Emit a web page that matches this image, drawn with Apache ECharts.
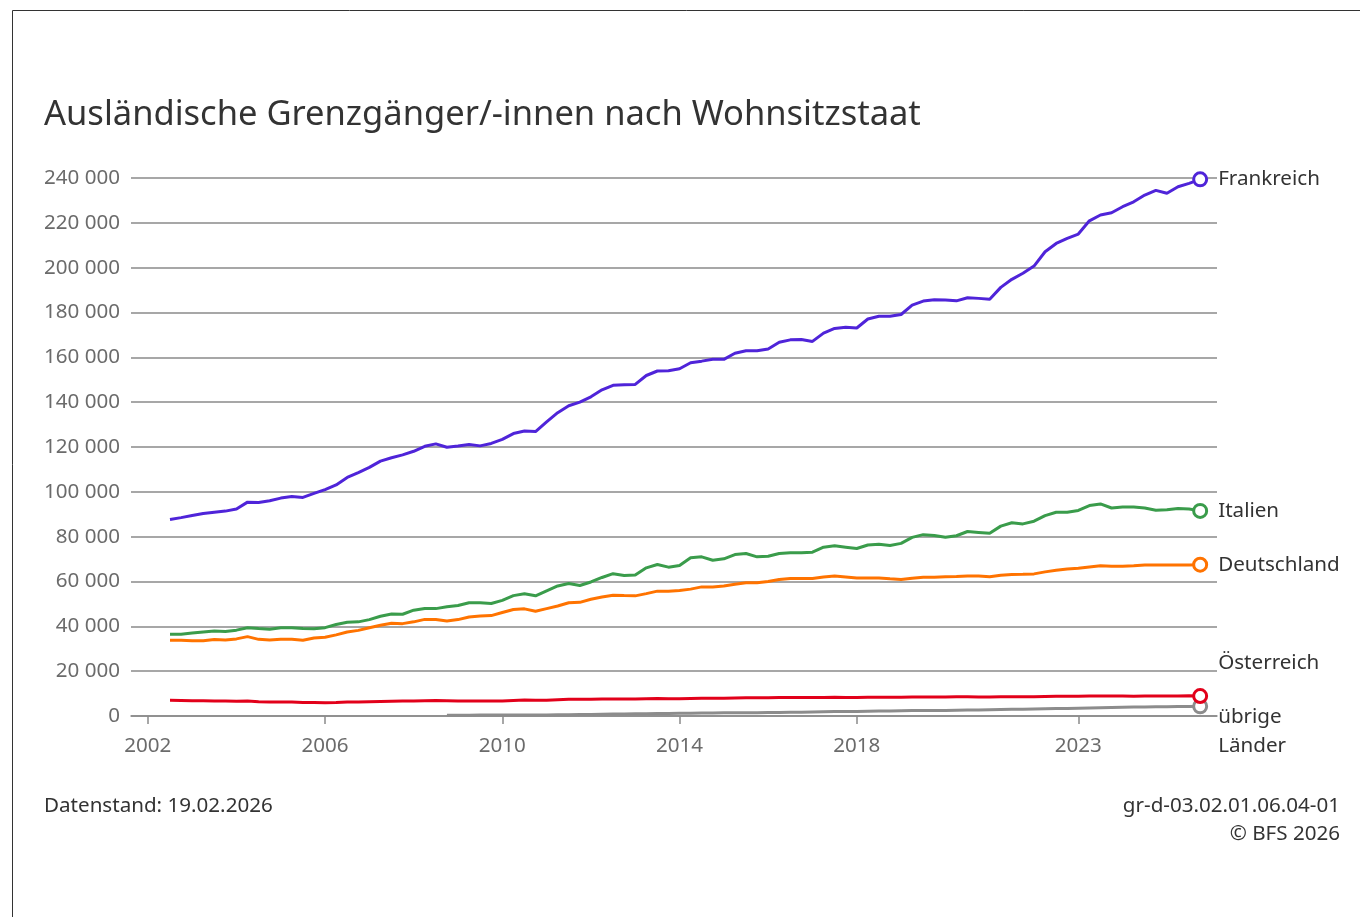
<!DOCTYPE html>
<html>
<head>
<meta charset="utf-8">
<script src="https://cdn.jsdelivr.net/npm/echarts@6/dist/echarts.min.js"></script>
<style>
  html, body { margin: 0; padding: 0; background: #fff; }
  #chart { width: 1360px; height: 917px; }
</style>
</head>
<body>
<div id="chart"></div>
<script>
// quarterly values in thousands, 2002 Q3 .. 2025 Q4
var frankreich = [
  87.7, 88.5,                 // 2002
  89.4, 90.3, 90.9, 91.4,     // 2003
  92.3, 95.4, 95.2, 96.0,     // 2004
  97.2, 97.9, 97.5, 99.3,     // 2005
  101.0, 103.1, 106.4, 108.6, // 2006
  110.9, 113.7, 115.2, 116.5, // 2007
  118.1, 120.3, 121.4, 119.9, // 2008
  120.4, 121.1, 120.5, 121.6, // 2009
  123.4, 126.0, 127.1, 126.9, // 2010
  131.2, 135.3, 138.4, 140.0, // 2011
  142.4, 145.5, 147.5, 147.8, // 2012
  147.9, 151.9, 153.9, 154.0, // 2013
  154.9, 157.6, 158.3, 159.1, // 2014
  159.1, 161.8, 162.9, 162.9, // 2015
  163.7, 166.7, 167.8, 168.0, // 2016
  167.1, 170.8, 172.9, 173.4, // 2017
  173.1, 177.1, 178.3, 178.3, // 2018
  179.1, 183.3, 185.1, 185.7, // 2019
  185.6, 185.2, 186.6, 186.3, // 2020
  185.9, 191.2, 194.8, 197.5, // 2021
  200.7, 207.1, 210.8, 213.1, // 2022
  215.0, 220.9, 223.5, 224.5, // 2023
  227.2, 229.4, 232.4, 234.5, // 2024
  233.2, 236.1, 237.6, 239.4  // 2025
];
var italien = [
  36.5, 36.5,
  37.0, 37.5, 37.9, 37.7,
  38.3, 39.4, 39.0, 38.7,
  39.4, 39.4, 39.0, 38.9,
  39.4, 40.8, 41.8, 42.0,
  43.0, 44.5, 45.5, 45.4,
  47.2, 48.0, 47.9, 48.7,
  49.3, 50.5, 50.5, 50.2,
  51.6, 53.7, 54.5, 53.6,
  55.8, 58.0, 59.1, 58.2,
  59.8, 61.8, 63.5, 62.7,
  62.9, 66.1, 67.6, 66.4,
  67.1, 70.6, 71.0, 69.5,
  70.1, 72.0, 72.5, 71.0,
  71.3, 72.5, 72.8, 72.8,
  73.1, 75.3, 75.9, 75.3,
  74.7, 76.3, 76.6, 76.1,
  77.0, 79.7, 80.9, 80.5,
  79.7, 80.4, 82.3, 81.9,
  81.5, 84.7, 86.2, 85.7,
  86.9, 89.4, 90.9, 90.9,
  91.7, 93.9, 94.6, 92.8,
  93.2, 93.2, 92.8, 91.8,
  92.0, 92.6, 92.3, 91.5
];
var deutschland = [
  33.8, 33.8,
  33.6, 33.6, 34.1, 33.9,
  34.4, 35.4, 34.2, 33.9,
  34.2, 34.2, 33.8, 34.8,
  35.1, 36.2, 37.5, 38.2,
  39.4, 40.5, 41.4, 41.2,
  42.0, 43.1, 43.0, 42.4,
  43.0, 44.2, 44.6, 44.8,
  46.2, 47.5, 47.8, 46.7,
  47.9, 49.1, 50.5, 50.7,
  52.1, 53.1, 53.9, 53.7,
  53.6, 54.6, 55.7, 55.7,
  56.0, 56.6, 57.6, 57.6,
  58.0, 58.8, 59.4, 59.4,
  60.0, 60.9, 61.3, 61.3,
  61.3, 62.0, 62.4, 62.0,
  61.6, 61.6, 61.6, 61.2,
  60.9, 61.5, 61.9, 61.9,
  62.1, 62.2, 62.5, 62.4,
  62.1, 62.8, 63.1, 63.2,
  63.4, 64.3, 65.0, 65.6,
  65.9, 66.5, 67.0, 66.8,
  66.8, 67.0, 67.4, 67.4,
  67.4, 67.4, 67.4, 67.5
];
var oesterreich = [
  7.0, 6.9,
  6.8, 6.8, 6.7, 6.7,
  6.6, 6.7, 6.4, 6.3,
  6.2, 6.2, 6.0, 6.0,
  5.9, 6.0, 6.2, 6.3,
  6.4, 6.5, 6.6, 6.7,
  6.7, 6.8, 6.9, 6.8,
  6.7, 6.7, 6.7, 6.7,
  6.7, 6.9, 7.1, 7.0,
  7.0, 7.3, 7.5, 7.5,
  7.5, 7.6, 7.6, 7.6,
  7.6, 7.7, 7.8, 7.7,
  7.7, 7.8, 7.9, 7.9,
  7.9, 8.0, 8.1, 8.1,
  8.1, 8.2, 8.2, 8.2,
  8.2, 8.3, 8.4, 8.3,
  8.3, 8.4, 8.4, 8.4,
  8.4, 8.5, 8.5, 8.5,
  8.5, 8.6, 8.6, 8.5,
  8.5, 8.6, 8.6, 8.6,
  8.6, 8.7, 8.8, 8.8,
  8.8, 8.9, 8.9, 8.9,
  8.9, 8.8, 8.9, 8.9,
  8.9, 8.9, 9.0, 8.9
];
// übrige Länder starts 2008 Q4
var uebrige = [
  0.3,
  0.3, 0.3, 0.4, 0.4,
  0.4, 0.5, 0.5, 0.5,
  0.5, 0.6, 0.6, 0.7,
  0.7, 0.8, 0.9, 0.9,
  1.0, 1.0, 1.1, 1.1,
  1.2, 1.2, 1.3, 1.3,
  1.4, 1.5, 1.5, 1.5,
  1.6, 1.6, 1.7, 1.7,
  1.8, 1.9, 2.0, 2.0,
  2.0, 2.1, 2.2, 2.2,
  2.3, 2.4, 2.5, 2.5,
  2.5, 2.6, 2.7, 2.7,
  2.8, 2.9, 3.0, 3.0,
  3.1, 3.2, 3.3, 3.4,
  3.5, 3.6, 3.7, 3.8,
  3.9, 4.0, 4.0, 4.1,
  4.1, 4.2, 4.2, 4.3
];
var xTickYears = [2002, 2006, 2010, 2014, 2018, 2023];

var firstQuarter = 2002.5;   // 2002 Q3
var fontFam = '"Noto Sans", "Open Sans", sans-serif';
var fs = 20.6;

// turn a list of quarterly values into [year, value] pairs
function toPoints(values, start, lastSize) {
    var pts = [];
    for (var i = 0; i < values.length; i++) {
        var p = { value: [start + i * 0.25, values[i] * 1000] };
        if (i === values.length - 1) {
            p.symbol = 'circle';
            p.symbolSize = lastSize;
        }
        pts.push(p);
    }
    return pts;
}

function makeSeries(name, values, start, color, labelOffset, z) {
    return {
        name: name,
        type: 'line',
        data: toPoints(values, start, 13),
        symbol: 'none',
        showSymbol: true,
        showAllSymbol: true,
        z: z,
        lineStyle: { color: color, width: 3 },
        itemStyle: { color: '#fff', borderColor: color, borderWidth: 3 },
        emphasis: { disabled: true },
        endLabel: {
            show: true,
            formatter: name,
            color: '#333',
            fontFamily: fontFam,
            fontSize: fs,
            lineHeight: 29,
            distance: 5,
            offset: labelOffset
        }
    };
}

var chart = echarts.init(document.getElementById('chart'));
var option = {
    backgroundColor: '#fff',
    animation: false,
    textStyle: { fontFamily: fontFam },
    title: {
        text: 'Ausländische Grenzgänger/-innen nach Wohnsitzstaat',
        left: 44,
        top: 98,
        padding: 0,
        textStyle: { fontFamily: fontFam, fontSize: 34.5, fontWeight: 'normal', color: '#333' }
    },
    grid: { left: 131, right: 143, top: 178, bottom: 201, containLabel: false },
    xAxis: {
        type: 'value',
        min: 2001.62,
        max: 2026.13,
        splitLine: { show: false },
        axisLine: { show: true, lineStyle: { color: '#8a8a8a', width: 1.5 } },
        axisTick: { show: true, customValues: xTickYears, length: 8, lineStyle: { color: '#8a8a8a', width: 1.5 } },
        axisLabel: {
            customValues: xTickYears,
            formatter: function (v) { return String(v); },
            color: '#6b6b6b',
            fontSize: fs,
            margin: 20,
            fontFamily: fontFam
        }
    },
    yAxis: {
        type: 'value',
        min: 0,
        max: 240000,
        interval: 20000,
        axisLine: { show: false },
        axisTick: { show: false },
        splitLine: { lineStyle: { color: '#8a8a8a', width: 1.5 } },
        axisLabel: {
            color: '#6b6b6b',
            fontSize: fs,
            margin: 11,
            fontFamily: fontFam,
            formatter: function (v) {
                return String(v).replace(/\B(?=(\d{3})+(?!\d))/g, ' ');
            }
        }
    },
    series: [
        makeSeries('übrige\nLänder', uebrige, 2008.75, '#8c8c8c', [13, 25], 1),
        makeSeries('Österreich', oesterreich, firstQuarter, '#e2001a', [13, -33], 2),
        makeSeries('Deutschland', deutschland, firstQuarter, '#ff7300', [13, 0], 3),
        makeSeries('Italien', italien, firstQuarter, '#3a9c4b', [13, 0], 4),
        makeSeries('Frankreich', frankreich, firstQuarter, '#4f24d9', [13, 0], 5)
    ],
    graphic: [
        {
            type: 'rect',
            shape: { x: 12.5, y: 10.5, width: 1400, height: 1000 },
            style: { fill: 'none', stroke: '#333', lineWidth: 1 },
            silent: true
        },
        {
            type: 'text',
            left: 44,
            top: 796,
            style: { text: 'Datenstand: 19.02.2026', fill: '#333', font: fs + 'px ' + fontFam }
        },
        {
            type: 'text',
            right: 20,
            top: 796,
            style: { text: 'gr-d-03.02.01.06.04-01', fill: '#333', font: fs + 'px ' + fontFam, align: 'right' }
        },
        {
            type: 'text',
            right: 20,
            top: 824,
            style: { text: '© BFS 2026', fill: '#333', font: fs + 'px ' + fontFam, align: 'right' }
        }
    ]
};
chart.setOption(option);
</script>
</body>
</html>
